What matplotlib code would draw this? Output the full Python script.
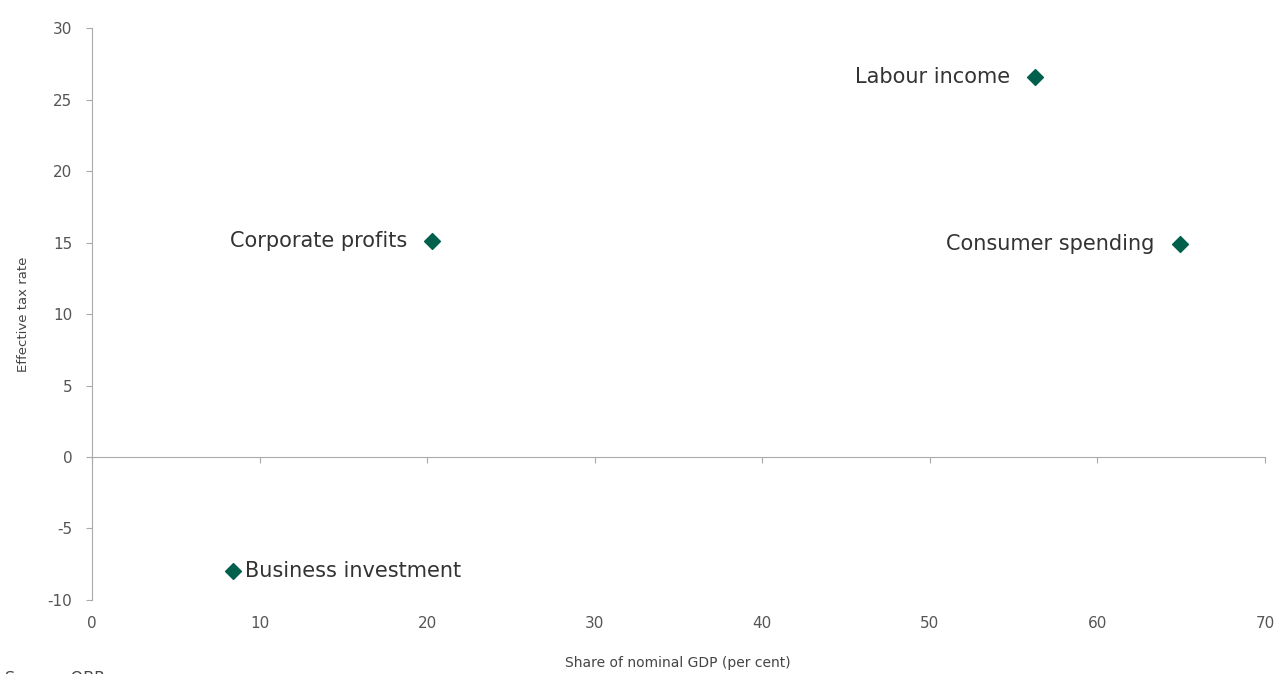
import matplotlib
matplotlib.use("Agg")
import matplotlib.pyplot as plt

categories = ["Labour income", "Consumer spending", "Corporate profits", "Business investment"]
gdp_share = [56.3, 64.9, 20.3, 8.4]
tax_rate = [26.6, 14.9, 15.1, -8.0]
label_side = ["left", "left", "left", "right"]

xticks = [0, 10, 20, 30, 40, 50, 60, 70]
yticks = [-10, -5, 0, 5, 10, 15, 20, 25, 30]

plt.rcParams['font.family'] = ['DejaVu Sans']

fig = plt.figure(figsize=(12.77, 6.74), dpi=100)
ax = fig.add_axes([0.072, 0.110, 0.9186, 0.848])

marker_color = "#00604c"
ax.scatter(gdp_share, tax_rate, marker="D", s=65, color=marker_color, zorder=3)

for name, x, y, side in zip(categories, gdp_share, tax_rate, label_side):
    if side == "left":
        ax.annotate(name, (x, y), xytext=(-18, 0), textcoords="offset points",
                    ha="right", va="center", fontsize=15, color="#333333")
    else:
        ax.annotate(name, (x, y), xytext=(9, 0), textcoords="offset points",
                    ha="left", va="center", fontsize=15, color="#333333")

ax.set_xlim(0, 70)
ax.set_ylim(-10, 30)
ax.set_xticks(xticks)
ax.set_yticks(yticks)
ax.set_yticklabels([str(t) for t in yticks])

ax.spines["top"].set_visible(False)
ax.spines["right"].set_visible(False)
ax.spines["bottom"].set_position(("data", 0))
ax.spines["left"].set_color("#aaaaaa")
ax.spines["bottom"].set_color("#aaaaaa")

ax.tick_params(axis="y", colors="#aaaaaa", labelcolor="#555555", labelsize=11, length=4, pad=10)
ax.tick_params(axis="x", colors="#aaaaaa", labelcolor="#555555", labelsize=11, length=4, direction="out")
ax.set_xticklabels([])
for t in xticks:
    ax.text(t, -11.65, str(t), ha="center", va="center", fontsize=11, color="#555555")

ax.set_ylabel("Effective tax rate", fontsize=9.5, color="#444444", labelpad=13)
fig.text(0.531, 0.017, "Share of nominal GDP (per cent)", ha="center", va="center",
         fontsize=10, color="#444444")
fig.text(0.004, -0.006, "Source: OBR", ha="left", va="center", fontsize=11.5, color="#444444")

fig.savefig("out.png", dpi=100)
